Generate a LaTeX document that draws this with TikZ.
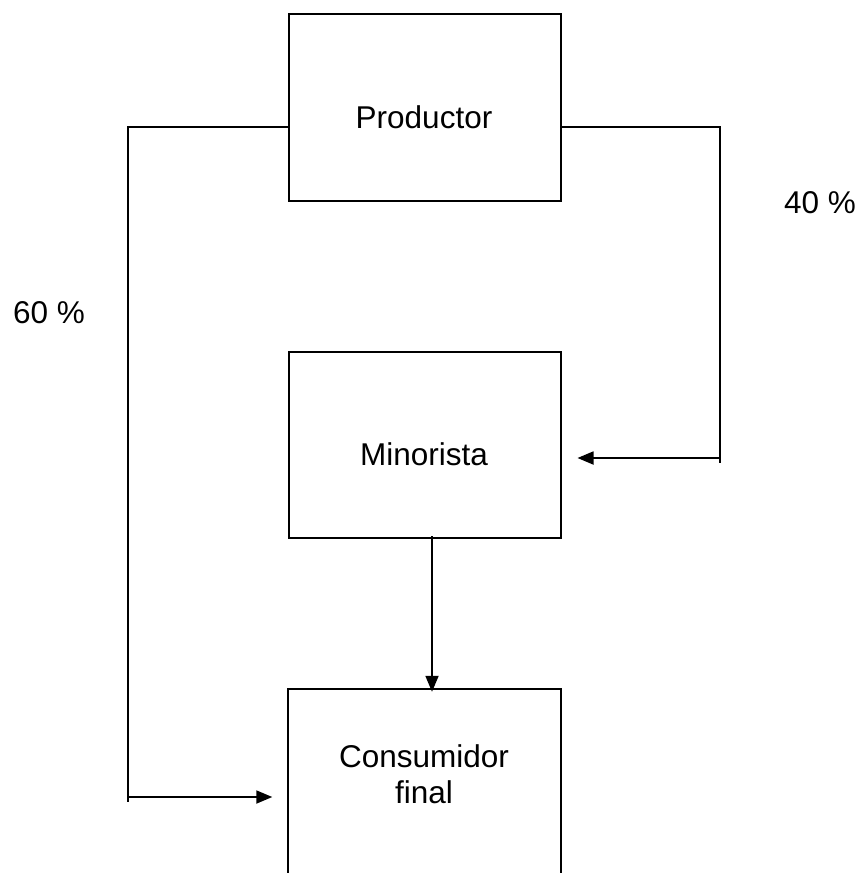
\documentclass[tikz,border=0pt]{standalone}
\usepackage{fontspec}
\setmainfont{Liberation Sans}
\usetikzlibrary{arrows.meta}
\begin{document}
\begin{tikzpicture}[x=1pt,y=-1pt,
  boxline/.style={line width=2pt},
  conn/.style={line width=1.8pt},
  arr/.style={line width=1.8pt,-{Triangle[length=16pt,width=13pt]}},
  lbl/.style={font=\fontsize{31.5}{36}\selectfont,anchor=base,inner sep=0pt}]
\useasboundingbox (0,0) rectangle (861,873);
% boxes
\node[boxline,draw,minimum width=272pt,minimum height=187pt,inner sep=0pt] (prod) at (424.5,107.5) {};
\node[boxline,draw,minimum width=272pt,minimum height=186pt,inner sep=0pt] (mino) at (424.5,445) {};
\node[minimum width=272pt,minimum height=184pt,inner sep=0pt] (cons) at (424.5,781) {};
\draw[boxline] (cons.south west) -- (cons.north west) -- (cons.north east) -- (cons.south east);
% texts
\node[lbl] (tprod) at (424,128) {Productor};
\node[lbl] (tmino) at (424,465) {Minorista};
\node[lbl] (tcons1) at (424,767) {Consumidor};
\node[lbl] (tcons2) at (424,803) {final};
\node[lbl,anchor=base west] (p60) at (13,323) {60 \%};
\node[lbl,anchor=base west] (p40) at (784,213) {40 \%};
% connectors
\coordinate (lc) at (128,127);
\coordinate (lb) at (128,802);
\coordinate (rc) at (720,127);
\coordinate (rb) at (720,463);
\coordinate (ds) at (432,536);
\draw[conn] (prod.west |- lc) -- (lc) -- (lb);
\draw[arr] (128,797) -- ([xshift=-16pt]cons.west |- 0,797);
\draw[conn] (prod.east |- rc) -- (rc) -- (rb);
\draw[arr] (720,458) -- ([xshift=16pt]mino.east |- 0,458);
\draw[arr] (ds) -- ([yshift=-3pt]ds |- cons.north);
\end{tikzpicture}
\end{document}
